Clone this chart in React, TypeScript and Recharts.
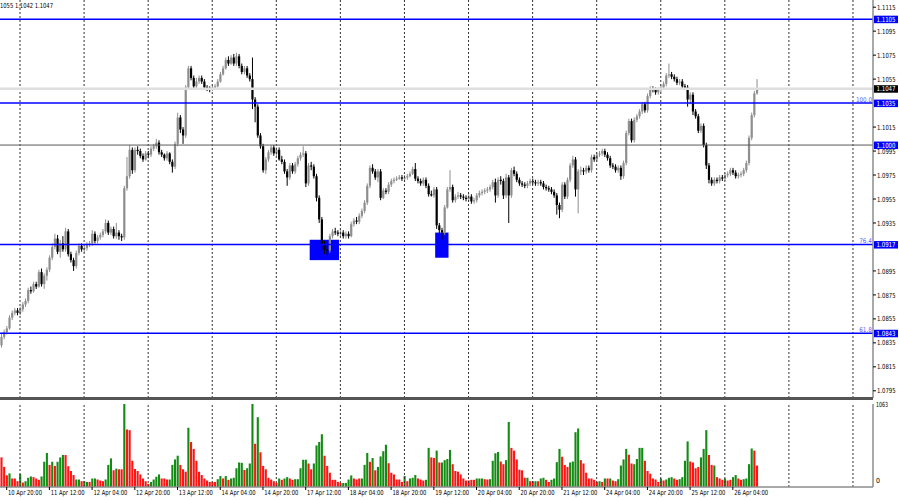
import React from "react";
import { ComposedChart, Bar, XAxis, YAxis, ReferenceLine, ReferenceArea } from "recharts";

// EURUSD H1, first bar 10 Apr 18:00. Prices in pips above 1.0000 (840 -> 1.0840)
const firstOpen = 833;

const closes = [
  840, 844, 847, 856, 860, 862, 860, 863, 867, 870,
  879, 878, 884, 882, 894, 884, 891, 896, 906, 915,
  922, 911, 918, 913, 928, 909, 904, 899, 910, 916,
  913, 914, 917, 918, 926, 920, 923, 925, 928, 935,
  927, 930, 924, 927, 924, 923, 964, 974, 996, 979,
  996, 995, 991, 988, 993, 992, 997, 999, 1002, 994,
  992, 989, 993, 986, 982, 1001, 1023, 1013, 1008, 1048,
  1064, 1056, 1049, 1053, 1056, 1053, 1048, 1047, 1046, 1048,
  1049, 1053, 1059, 1064, 1071, 1068, 1073, 1068, 1074, 1066,
  1061, 1064, 1058, 1055, 1038, 1032, 1008, 999, 979, 988,
  994, 998, 993, 996, 988, 986, 978, 973, 983, 978,
  984, 989, 992, 993, 968, 983, 982, 974, 956, 938,
  917, 913, 912, 924, 928, 927, 926, 927, 924, 926,
  924, 934, 937, 936, 941, 945, 952, 966, 981, 978,
  973, 978, 956, 962, 961, 967, 970, 971, 972, 973,
  972, 973, 974, 976, 980, 972, 970, 968, 971, 966,
  959, 958, 963, 933, 929, 927, 948, 963, 965, 954,
  957, 958, 957, 956, 955, 957, 953, 954, 958, 960,
  961, 962, 963, 965, 969, 958, 971, 970, 958, 973,
  958, 979, 976, 971, 968, 967, 966, 968, 970, 969,
  968, 969, 968, 965, 964, 963, 961, 958, 950, 946,
  967, 957, 971, 983, 988, 963, 978, 979, 978, 981,
  979, 990, 988, 992, 993, 995, 992, 989, 983, 982,
  979, 981, 974, 985, 1010, 1020, 1004, 1021, 1024, 1028,
  1034, 1029, 1041, 1047, 1046, 1044, 1046, 1048, 1051, 1058,
  1059, 1057, 1055, 1052, 1053, 1049, 1048, 1038, 1042, 1028,
  1024, 1012, 1016, 1000, 983, 971, 968, 971, 970, 973,
  972, 975, 976, 979, 977, 974, 975, 976, 979, 985,
  1006, 1025, 1043, 1047,
];

const highs = [
  843, 846, 849, 858, 862, 864, 864, 865, 869, 872,
  881, 882, 886, 886, 896, 897, 893, 898, 908, 918,
  926, 925, 921, 924, 931, 930, 911, 906, 912, 918,
  918, 916, 919, 920, 929, 928, 925, 927, 930, 938,
  937, 932, 932, 935, 929, 926, 966, 990, 1000, 998,
  998, 999, 997, 993, 995, 995, 999, 1001, 1005, 1004,
  996, 993, 995, 994, 988, 1003, 1027, 1025, 1015, 1050,
  1066, 1066, 1058, 1056, 1058, 1058, 1055, 1050, 1049, 1050,
  1051, 1055, 1061, 1066, 1073, 1074, 1075, 1076, 1077, 1076,
  1068, 1066, 1066, 1060, 1073, 1040, 1034, 1010, 1001, 990,
  996, 1000, 1000, 998, 998, 991, 988, 980, 985, 985,
  986, 991, 994, 999, 995, 985, 986, 984, 976, 958,
  940, 920, 917, 926, 930, 931, 929, 929, 929, 928,
  928, 936, 939, 940, 943, 947, 954, 968, 983, 984,
  980, 980, 980, 964, 964, 969, 972, 973, 974, 975,
  975, 975, 976, 978, 982, 985, 974, 972, 973, 973,
  968, 962, 965, 965, 935, 931, 950, 965, 979, 967,
  959, 961, 960, 959, 958, 959, 959, 956, 960, 962,
  963, 964, 965, 967, 971, 972, 973, 974, 972, 976,
  975, 981, 982, 978, 973, 970, 969, 970, 972, 972,
  971, 971, 971, 970, 967, 966, 965, 963, 960, 952,
  969, 969, 973, 985, 991, 990, 980, 982, 981, 983,
  983, 992, 992, 994, 995, 997, 997, 994, 991, 985,
  984, 983, 983, 987, 1012, 1022, 1022, 1023, 1026, 1030,
  1036, 1036, 1043, 1049, 1049, 1048, 1048, 1050, 1053, 1060,
  1068, 1061, 1059, 1057, 1055, 1055, 1051, 1050, 1044, 1044,
  1030, 1026, 1018, 1018, 1002, 985, 973, 973, 973, 975,
  975, 977, 978, 981, 981, 979, 977, 978, 981, 987,
  1008, 1027, 1045, 1055,
];

const lows = [
  831, 838, 842, 846, 854, 858, 858, 858, 861, 865,
  868, 876, 877, 880, 881, 882, 880, 887, 894, 904,
  913, 909, 906, 911, 911, 907, 902, 895, 897, 908,
  911, 910, 912, 915, 916, 918, 918, 921, 923, 926,
  925, 925, 922, 922, 921, 920, 921, 962, 972, 976,
  977, 992, 989, 986, 987, 989, 990, 995, 997, 992,
  990, 987, 987, 984, 977, 980, 999, 1010, 1001, 1006,
  1046, 1054, 1047, 1047, 1051, 1051, 1046, 1045, 1044, 1045,
  1046, 1048, 1052, 1058, 1063, 1066, 1067, 1066, 1066, 1064,
  1059, 1059, 1056, 1053, 1030, 1019, 1006, 997, 977, 976,
  986, 992, 991, 991, 987, 984, 976, 966, 971, 976,
  976, 982, 987, 990, 965, 966, 979, 972, 953, 935,
  912, 909, 908, 910, 922, 925, 924, 924, 922, 922,
  922, 923, 932, 934, 934, 939, 943, 950, 964, 976,
  971, 969, 954, 955, 959, 959, 965, 968, 970, 971,
  970, 970, 971, 973, 975, 970, 968, 966, 966, 964,
  957, 957, 956, 930, 926, 921, 925, 947, 961, 952,
  952, 955, 955, 954, 953, 953, 951, 951, 952, 956,
  958, 959, 960, 961, 963, 952, 956, 967, 955, 956,
  935, 956, 974, 969, 966, 965, 964, 964, 966, 967,
  966, 966, 966, 963, 962, 961, 959, 956, 942, 939,
  944, 955, 955, 969, 981, 957, 943, 975, 975, 976,
  977, 977, 986, 986, 990, 991, 990, 987, 981, 980,
  977, 977, 971, 972, 983, 1008, 1002, 1002, 1019, 1022,
  1026, 1027, 1027, 1039, 1044, 1042, 1042, 1044, 1046, 1049,
  1056, 1055, 1053, 1050, 1050, 1047, 1046, 1032, 1034, 1025,
  1022, 1010, 1010, 998, 980, 968, 966, 966, 968, 968,
  970, 970, 973, 974, 975, 972, 972, 973, 974, 977,
  983, 1004, 1023, 1042,
];

const volumes = [
  380, 257, 150, 174, 109, 109, 74, 166, 57, 74,
  118, 135, 126, 109, 92, 135, 323, 436, 283, 323,
  270, 323, 379, 410, 410, 266, 205, 153, 96, 96,
  74, 74, 65, 65, 109, 109, 96, 83, 74, 96,
  283, 366, 214, 235, 227, 227, 1063, 737, 728, 336,
  231, 205, 161, 109, 74, 39, 65, 96, 131, 161,
  109, 109, 96, 96, 283, 353, 401, 283, 227, 196,
  759, 576, 488, 336, 196, 153, 109, 83, 65, 65,
  65, 100, 140, 109, 140, 92, 109, 118, 240, 314,
  310, 218, 240, 301, 1063, 554, 894, 445, 270, 227,
  118, 96, 74, 52, 109, 92, 109, 126, 109, 92,
  100, 100, 240, 349, 349, 301, 227, 301, 532, 576,
  676, 401, 270, 183, 92, 92, 65, 52, 52, 52,
  96, 148, 109, 96, 109, 109, 283, 436, 323, 371,
  214, 257, 392, 458, 541, 305, 183, 161, 96, 96,
  65, 140, 74, 109, 118, 153, 109, 96, 83, 92,
  501, 379, 371, 466, 314, 314, 344, 358, 475,
  292, 205, 196, 161, 109, 83, 83, 92, 92, 109,
  109, 109, 100, 96, 100, 336, 432, 449, 327, 292,
  344, 833, 501, 466, 353, 222, 214, 118, 118, 74,
  74, 74, 74, 109, 118, 92, 65, 92, 109, 318,
  488, 388, 283, 257, 314, 327, 702, 750, 344, 301,
  183, 109, 109, 92, 65, 74, 65, 109, 109, 109,
  83, 74, 100, 275, 353, 488, 414, 301, 292, 358,
  501, 501, 336, 205, 170, 109, 96, 65, 109, 83,
  96, 118, 126, 109, 92, 100, 126, 336, 584, 327,
  314, 240, 257, 379, 488, 728, 410, 283, 275, 126,
  109, 92, 109, 83, 92, 126, 153, 109, 92, 100,
  109, 292, 493, 466, 275,
];

// g = volume above previous bar (green), r = below (red)
const volumeColors =
  "rrrgrrrgrg" + "ggrrrgggrg" + "rgggrrrrgg" + "rggrggrrrg" + "ggrgrrgrrr" +
  "rrrrrrgggg" + "rrrggggrrr" + "grrrrrrrrr" + "rggrgrgggg" + "grgggrgrrr" +
  "rrrrgrggrr" + "gggggrrggg" + "grrrrrrrgg" + "ggrrrgggrg" + "rggggrrrrr" +
  "rgrgggrrrg" + "grrgrgggg" +
  "rrrrrrrrrg" + "ggrrggggrr" + "ggrrrrrrgr" + "rgrggrrggg" + "grrrggggrr" +
  "rrrrrgrgrg" + "rrggggrrgg" + "ggrrrrrrgr" + "gggrrggggr" + "rrrgggrrgr" +
  "rrgrrggrrg" + "gggrr";

const timeLabels = [
  "10 Apr 20:00", "11 Apr 12:00", "12 Apr 04:00", "12 Apr 20:00", "13 Apr 12:00",
  "14 Apr 04:00", "14 Apr 20:00", "17 Apr 12:00", "18 Apr 04:00", "18 Apr 20:00",
  "19 Apr 12:00", "20 Apr 04:00", "20 Apr 20:00", "21 Apr 12:00", "24 Apr 04:00",
  "24 Apr 20:00", "25 Apr 12:00", "26 Apr 04:00",
];

const priceTicks = [
  1.1115, 1.1095, 1.1075, 1.1055, 1.1015, 1.0995, 1.0975, 1.0955, 1.0935,
  1.0895, 1.0875, 1.0855, 1.0835, 1.0815, 1.0795,
];
const blueLevels = [1.1105, 1.1035, 1.0917, 1.0843];
const fibTexts = ["", "100.0", "76.4", "61.8"];
const roundLevel = 1.1;
const lastPrice = 1.1047;
const volumeMax = 1063;
const headerText = "1055 1.1042 1.1047";

const zones = [
  { from: 116, to: 126, low: 1.0904, high: 1.0921 },
  { from: 163, to: 167, low: 1.0906, high: 1.0927 },
];

const SLOTS = 327;
const LABEL_FIRST = 2;
const LABEL_STEP = 16;
const GRID_FIRST = 7;
const GRID_STEP = 24;

const px = (p: number) => 1 + p / 10000;

const data = Array.from({ length: SLOTS }, (_, i) => {
  if (i >= closes.length) return { i };
  const o = px(i === 0 ? firstOpen : closes[i - 1]);
  const c = px(closes[i]);
  return {
    i,
    o,
    c,
    h: Math.max(px(highs[i]), o, c),
    l: Math.min(px(lows[i]), o, c),
    vol: volumes[i],
    up: volumeColors[i] === "g",
  };
});

const gridBars: number[] = [];
for (let k = GRID_FIRST; k < SLOTS; k += GRID_STEP) gridBars.push(k);

const FONT = "'DejaVu Sans', 'Liberation Sans', sans-serif";
const BLUE = "#0000ff";

const Candle = (props: any) => {
  const { x, y, width, height, payload } = props;
  if (payload == null || payload.h == null) return null;
  const top = Math.min(y, y + height);
  const span = Math.abs(height);
  const range = payload.h - payload.l || 1e-9;
  const py = (v: number) => top + ((payload.h - v) / range) * span;
  const cx = x + width / 2;
  const bull = payload.c >= payload.o;
  const color = bull ? "#8e8e8e" : "#000000";
  const yo = py(payload.o);
  const yc = py(payload.c);
  const bt = Math.min(yo, yc);
  const bh = Math.max(1, Math.abs(yc - yo));
  return (
    <g>
      <line x1={cx} x2={cx} y1={top} y2={top + Math.max(span, 1)} stroke={color} strokeWidth={1} />
      <rect x={cx - 1.1} y={bt} width={2.2} height={bh} fill={color} />
    </g>
  );
};

const VolBar = (props: any) => {
  const { x, y, width, height, payload } = props;
  if (payload == null || payload.vol == null) return null;
  const cx = x + width / 2;
  return <rect x={cx - 1.05} y={y} width={2.1} height={height} fill={payload.up ? "#128c12" : "#ff1414"} />;
};

const PriceTick = (props: any) => {
  const { y, payload } = props;
  const v = payload.value;
  const boxed = blueLevels.includes(v) || v === roundLevel || v === lastPrice;
  if (boxed) {
    const fill = v === lastPrice ? "#000000" : BLUE;
    return (
      <g>
        <rect x={874} y={y - 3.5} width={24} height={7.5} fill={fill} />
        <text x={876.5} y={y + 2.5} fontSize={7} fontFamily={FONT} fill="#ffffff" textLength={19} lengthAdjust="spacingAndGlyphs">
          {v.toFixed(4)}
        </text>
      </g>
    );
  }
  const ty = v === 1.0995 ? y + 3.2 : y + 2.6;
  return (
    <g>
      <line x1={873} x2={876} y1={y} y2={y} stroke="#000" strokeWidth={1} />
      <text x={877} y={ty} fontSize={7} fontFamily={FONT} fill="#000" textLength={18.5} lengthAdjust="spacingAndGlyphs">
        {v.toFixed(4)}
      </text>
    </g>
  );
};

const VolTick = (props: any) => {
  const { y, payload } = props;
  const v = payload.value;
  const ty = v === 0 ? y - 4 : y + 2.6;
  return (
    <text x={876} y={ty} fontSize={7} fontFamily={FONT} fill="#000" textLength={v === 0 ? 4 : 12} lengthAdjust="spacingAndGlyphs">
      {String(v)}
    </text>
  );
};

// volume chart local coordinates: axis line at y = 89
const TimeTick = (props: any) => {
  const { x, payload } = props;
  const k = (payload.value - LABEL_FIRST) / LABEL_STEP;
  const label = timeLabels[k];
  if (!label) return null;
  return (
    <g>
      <line x1={x} x2={x} y1={89} y2={92} stroke="#000" strokeWidth={1} />
      <text x={x + 1.3} y={96.5} fontSize={7} fontFamily={FONT} fill="#000" textLength={34} lengthAdjust="spacingAndGlyphs">
        {label}
      </text>
    </g>
  );
};

const FibLabel = (props: any) => {
  const { viewBox, text } = props;
  if (!viewBox || !text) return null;
  return (
    <text
      x={viewBox.x + viewBox.width - 1}
      y={viewBox.y - 1.5}
      textAnchor="end"
      fontSize={6.5}
      fontFamily={FONT}
      fill="#5a5aff"
      textLength={text.length * 3.2}
      lengthAdjust="spacingAndGlyphs"
    >
      {text}
    </text>
  );
};

export default function App() {
  const labelTicks = timeLabels.map((_, k) => LABEL_FIRST + k * LABEL_STEP);
  return (
    <div style={{ position: "absolute", left: 0, top: 0, width: 900, height: 500, background: "#fff", overflow: "hidden" }}>
      <div style={{ position: "absolute", left: 0, top: 0 }}>
        <ComposedChart width={900} height={398} data={data} margin={{ top: 0, right: 0, bottom: 0, left: 0 }} barCategoryGap={0}>
          <XAxis dataKey="i" type="category" hide />
          <YAxis
            orientation="right"
            width={27}
            type="number"
            domain={[1.0789, 1.1121]}
            allowDataOverflow
            ticks={[...priceTicks, roundLevel, ...blueLevels, lastPrice]}
            interval={0}
            tick={<PriceTick />}
            tickLine={false}
            axisLine={{ stroke: "#8c8c8c", strokeWidth: 1.5 }}
          />
          {gridBars.map((g) => (
            <ReferenceLine key={`g${g}`} x={g} stroke="#333" strokeDasharray="2 2" strokeWidth={1} />
          ))}
          <ReferenceLine y={lastPrice} stroke="#dedede" strokeWidth={2.5} />
          <ReferenceLine y={roundLevel} stroke="#5a5a5a" strokeWidth={1} />
          {blueLevels.map((lv, k) => (
            <ReferenceLine key={`b${lv}`} y={lv} stroke={BLUE} strokeWidth={1.5} label={<FibLabel text={fibTexts[k]} />} />
          ))}
          {zones.map((z) => (
            <ReferenceArea key={`z${z.from}`} x1={z.from} x2={z.to} y1={z.low} y2={z.high} fill={BLUE} fillOpacity={1} stroke="none" />
          ))}
          <Bar
            dataKey={(d: any) => (d.h == null ? null : [d.l, d.h])}
            shape={<Candle />}
            isAnimationActive={false}
          />
        </ComposedChart>
      </div>
      <div style={{ position: "absolute", left: 0, top: 397, width: 873, height: 2.5, background: "#555" }} />
      <div style={{ position: "absolute", left: 0, top: 398 }}>
        <ComposedChart width={900} height={102} data={data} margin={{ top: 6, right: 0, bottom: 0, left: 0 }} barCategoryGap={0}>
          <XAxis
            dataKey="i"
            type="category"
            height={13}
            ticks={labelTicks}
            interval={0}
            tick={<TimeTick />}
            tickLine={false}
            axisLine={{ stroke: "#8c8c8c", strokeWidth: 1.5 }}
          />
          <YAxis
            orientation="right"
            width={27}
            type="number"
            domain={[0, volumeMax]}
            ticks={[volumeMax, 0]}
            interval={0}
            tick={<VolTick />}
            tickLine={false}
            axisLine={{ stroke: "#8c8c8c", strokeWidth: 1.5 }}
          />
          {gridBars.map((g) => (
            <ReferenceLine key={`vg${g}`} x={g} stroke="#333" strokeDasharray="2 2" strokeWidth={1} />
          ))}
          <Bar dataKey="vol" shape={<VolBar />} isAnimationActive={false} />
        </ComposedChart>
      </div>
      <svg width={120} height={12} style={{ position: "absolute", left: 0, top: 0 }}>
        <text x={0} y={7.5} fontSize={7} fontFamily={FONT} fill="#000" textLength={53} lengthAdjust="spacingAndGlyphs">
          {headerText}
        </text>
      </svg>
    </div>
  );
}
